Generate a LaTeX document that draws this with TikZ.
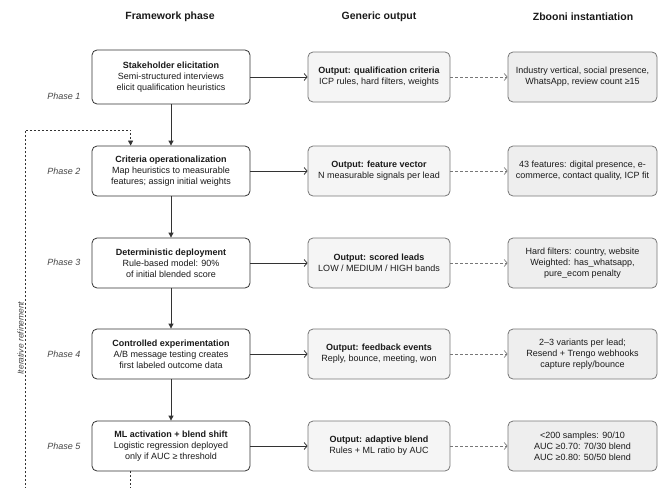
\documentclass[tikz,border=0pt]{standalone}
\usepackage{fontspec}
\setmainfont{Liberation Sans}
\usetikzlibrary{arrows.meta}
\definecolor{boxline}{HTML}{333333}
\definecolor{greyline}{HTML}{777777}
\definecolor{outfill}{HTML}{F5F5F5}
\definecolor{instfill}{HTML}{EEEEEE}
\definecolor{textdark}{HTML}{1A1A1A}
\definecolor{labelgrey}{HTML}{444444}

\begin{document}
\begin{tikzpicture}[x=1pt, y=-1pt,
		phasebox/.style={draw=boxline, fill=white, rounded corners=5pt, line width=0.8pt, minimum width=158pt, minimum height=50pt, inner sep=0pt, align=center, text=textdark, font=\fontsize{9}{11}\selectfont},
		outbox/.style={phasebox, draw=greyline, fill=outfill, minimum width=142pt},
		instbox/.style={outbox, fill=instfill, minimum width=149pt},
		phaselabel/.style={text=labelgrey, font=\fontsize{9}{11}\selectfont\itshape},
		header/.style={text=textdark, font=\fontsize{10.5}{12}\selectfont\bfseries},
		flow/.style={draw=boxline, line width=0.8pt, -{Triangle[length=5pt,width=5pt]}},
		feeds/.style={draw=boxline, line width=0.8pt, -{Straight Barb[length=3pt,width=7pt]}},
		maps/.style={draw=greyline, line width=0.7pt, dash pattern=on 3pt off 2pt, -{Straight Barb[length=3pt,width=7pt]}},
		loopback/.style={draw=boxline, line width=0.7pt, dash pattern=on 2pt off 2pt, -{Triangle[length=5pt,width=5pt]}}]
			%%%%% START %%%%%
			
			\useasboundingbox (0,0) rectangle (660,487);
			\clip (0,0) rectangle (660,487);
			
			\node[header] (hphase) at (170,17) {Framework phase};
			\node[header] (hout) at (379,17) {Generic output};
			\node[header] (hinst) at (583,17) {Zbooni instantiation};
			
			% framework phases
			\node[phasebox, minimum height=54pt] (p1) at (171,77) {\textbf{Stakeholder elicitation}\\Semi-structured interviews\\elicit qualification heuristics};
			\node[phasebox] (p2) at (171,171) {\textbf{Criteria operationalization}\\Map heuristics to measurable\\features; assign initial weights};
			\node[phasebox] (p3) at (171,263) {\textbf{Deterministic deployment}\\Rule-based model: 90\%\\of initial blended score};
			\node[phasebox] (p4) at (171,354) {\textbf{Controlled experimentation}\\A/B message testing creates\\first labeled outcome data};
			\node[phasebox] (p5) at (171,446) {\textbf{ML activation + blend shift}\\Logistic regression deployed\\only if AUC ≥ threshold};
			
			\node[phaselabel] (l1) at (64,96) {Phase 1};
			\node[phaselabel] (l2) at (64,171) {Phase 2};
			\node[phaselabel] (l3) at (64,262) {Phase 3};
			\node[phaselabel] (l4) at (64,354) {Phase 4};
			\node[phaselabel] (l5) at (64,446) {Phase 5};
			
			% generic outputs
			\node[outbox] (o1) at (379,77) {\textbf{Output: qualification criteria}\\ICP rules, hard filters, weights};
			\node[outbox] (o2) at (379,171) {\textbf{Output: feature vector}\\N measurable signals per lead};
			\node[outbox] (o3) at (379,263) {\textbf{Output: scored leads}\\LOW / MEDIUM / HIGH bands};
			\node[outbox] (o4) at (379,354) {\textbf{Output: feedback events}\\Reply, bounce, meeting, won};
			\node[outbox] (o5) at (379,446) {\textbf{Output: adaptive blend}\\Rules + ML ratio by AUC};
			
			% zbooni instantiation
			\node[instbox] (z1) at (582.5,77) {Industry vertical, social presence,\\WhatsApp, review count ≥15};
			\node[instbox] (z2) at (582.5,171) {43 features: digital presence, e-\\commerce, contact quality, ICP fit};
			\node[instbox] (z3) at (582.5,263) {Hard filters: country, website\\Weighted: has\_whatsapp,\\pure\_ecom penalty};
			\node[instbox] (z4) at (582.5,354) {2–3 variants per lead;\\Resend + Trengo webhooks\\capture reply/bounce};
			\node[instbox] (z5) at (582.5,446) {<200 samples: 90/10\\AUC ≥0.70: 70/30 blend\\AUC ≥0.80: 50/50 blend};
			
			\draw[flow] (p1) -- (p2);
			\draw[flow] (p2) -- (p3);
			\draw[flow] (p3) -- (p4);
			\draw[flow] (p4) -- (p5);
			
			\draw[feeds] (p1) -- (o1);
			\draw[feeds] (p2) -- (o2);
			\draw[feeds] (p3) -- (o3);
			\draw[feeds] (p4) -- (o4);
			\draw[feeds] (p5) -- (o5);
			
			\draw[maps] (o1) -- (z1);
			\draw[maps] (o2) -- (z2);
			\draw[maps] (o3) -- (z3);
			\draw[maps] (o4) -- (z4);
			\draw[maps] (o5) -- (z5);
			
			% feedback loop back to phase 2
			\draw[loopback] ([xshift=39pt]p5.south west) -- ++(0,40) -| (25,130) -| ([xshift=39pt]p2.north west);
			\node[rotate=90, anchor=south, inner sep=1pt, text=labelgrey, font=\fontsize{8.5}{10}\selectfont\itshape] (looplabel) at (25,338) {Iterative refinement};
			
			%%%%% END %%%%%
\end{tikzpicture}
\end{document}
